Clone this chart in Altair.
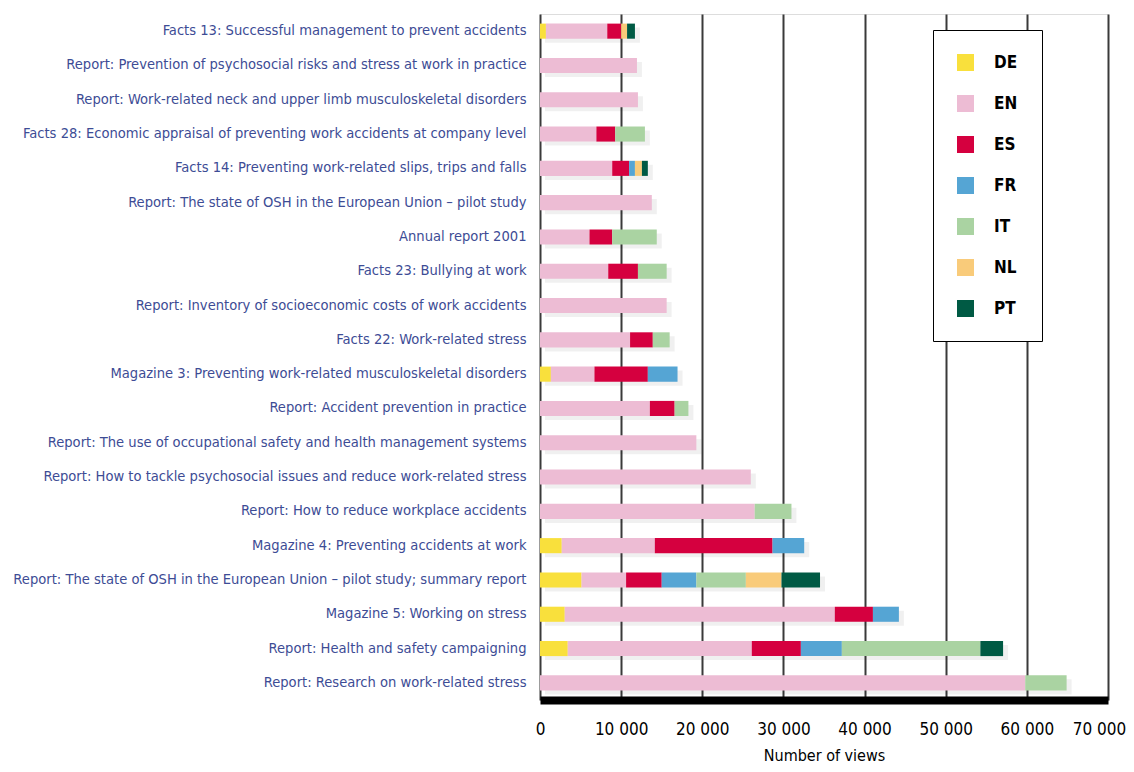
import altair as alt
import pandas as pd

publications = [
    "Facts 13: Successful management to prevent accidents",
    "Report: Prevention of psychosocial risks and stress at work in practice",
    "Report: Work-related neck and upper limb musculoskeletal disorders",
    "Facts 28: Economic appraisal of preventing work accidents at company level",
    "Facts 14: Preventing work-related slips, trips and falls",
    "Report: The state of OSH in the European Union – pilot study",
    "Annual report 2001",
    "Facts 23: Bullying at work",
    "Report: Inventory of socioeconomic costs of work accidents",
    "Facts 22: Work-related stress",
    "Magazine 3: Preventing work-related musculoskeletal disorders",
    "Report: Accident prevention in practice",
    "Report: The use of occupational safety and health management systems",
    "Report: How to tackle psychosocial issues and reduce work-related stress",
    "Report: How to reduce workplace accidents",
    "Magazine 4: Preventing accidents at work",
    "Report: The state of OSH in the European Union – pilot study; summary report",
    "Magazine 5: Working on stress",
    "Report: Health and safety campaigning",
    "Report: Research on work-related stress",
]

languages = ["DE", "EN", "ES", "FR", "IT", "NL", "PT"]
colors = ["#F9E03C", "#EDBCD4", "#D5003F", "#55A5D4", "#AAD3A2", "#F9CB7A", "#005A44"]

DE = [730, 0, 0, 0, 0, 0, 0, 0, 0, 0, 1340, 0, 0, 0, 0, 2680, 5120, 3050, 3420, 0]
EN = [7560, 11950, 12070, 6950, 8900, 13780, 6100, 8410, 15610, 11100,
      5370, 13540, 19270, 25980, 26460, 11470, 5490, 33280, 22680, 59800]
ES = [1710, 0, 0, 2320, 2080, 0, 2800, 3660, 0, 2800,
      6580, 3050, 0, 0, 0, 14510, 4390, 4700, 6050, 0]
FR = [0, 0, 0, 0, 720, 0, 0, 0, 0, 0, 3660, 0, 0, 0, 0, 3900, 4270, 3200, 5050, 0]
IT = [0, 0, 0, 3660, 0, 0, 5490, 3540, 0, 2080, 0, 1700, 0, 0, 4530, 0, 6100, 0, 17070, 5100]
NL = [730, 0, 0, 0, 860, 0, 0, 0, 0, 0, 0, 0, 0, 0, 0, 0, 4390, 0, 0, 0]
PT = [970, 0, 0, 0, 730, 0, 0, 0, 0, 0, 0, 0, 0, 0, 0, 0, 4750, 0, 2800, 0]

x_ticks = [0, 10000, 20000, 30000, 40000, 50000, 60000, 70000]

series = {"DE": DE, "EN": EN, "ES": ES, "FR": FR, "IT": IT, "NL": NL, "PT": PT}
rows = []
for lang_i, lang in enumerate(languages):
    for pub, v in zip(publications, series[lang]):
        if v > 0:
            rows.append({"pub": pub, "lang": lang, "order": lang_i, "views": v})
df = pd.DataFrame(rows)

FONT = "DejaVu Sans Condensed, sans-serif"

yscale = alt.Scale(paddingInner=0.56, paddingOuter=0.28)
xscale = alt.Scale(domain=[0, 70000], nice=False)

y_enc = alt.Y("pub:N", sort=publications, scale=yscale,
              axis=alt.Axis(title=None, domain=False, ticks=False, labelPadding=14,
                            labelFont=FONT, labelFontSize=14.6, labelColor="#3D4C95",
                            labelLimit=600))

shadow = alt.Chart(df).transform_aggregate(
    total="sum(views)", groupby=["pub"]
).mark_bar(color="black", opacity=0.06, xOffset=5, yOffset=4).encode(
    x=alt.X("total:Q", scale=xscale),
    y=y_enc,
)

bars = alt.Chart(df).mark_bar().encode(
    x=alt.X("views:Q", stack="zero", scale=xscale,
            axis=alt.Axis(values=x_ticks, title="Number of views",
                          labelExpr="replace(format(datum.value, ','), ',', ' ')",
                          grid=True, gridColor="#3A3A3A", gridWidth=2,
                          domainColor="black", domainWidth=8,
                          ticks=False, labelPadding=21, labelFlush=False,
                          labelOffset={"condition": {"test": "datum.value == 70000", "value": -9},
                                       "value": 0},
                          labelFont=FONT, labelFontSize=17, labelColor="black",
                          titleFont=FONT, titleFontSize=16, titleColor="black",
                          titleFontWeight="normal", titlePadding=10)),
    y=y_enc,
    color=alt.Color("lang:N", scale=alt.Scale(domain=languages, range=colors),
                    legend=alt.Legend(title=None, orient="none", legendX=393, legendY=16,
                                      fillColor="white", strokeColor="black",
                                      padding=24, symbolType="square", symbolSize=289,
                                      symbolStrokeWidth=0, labelOffset=20, rowPadding=23,
                                      labelFont=FONT, labelFontSize=17, labelColor="black",
                                      labelFontWeight="bold")),
    order=alt.Order("order:Q"),
)

chart = alt.layer(shadow, bars).properties(
    width=568, height=686,
    autosize=alt.AutoSizeParams(type="none"),
    padding={"left": 532, "top": 6, "right": 18, "bottom": 64},
).configure_view(stroke=None).configure(background="white")

chart.save("out.html", embed_options={"renderer": "svg", "actions": False})
